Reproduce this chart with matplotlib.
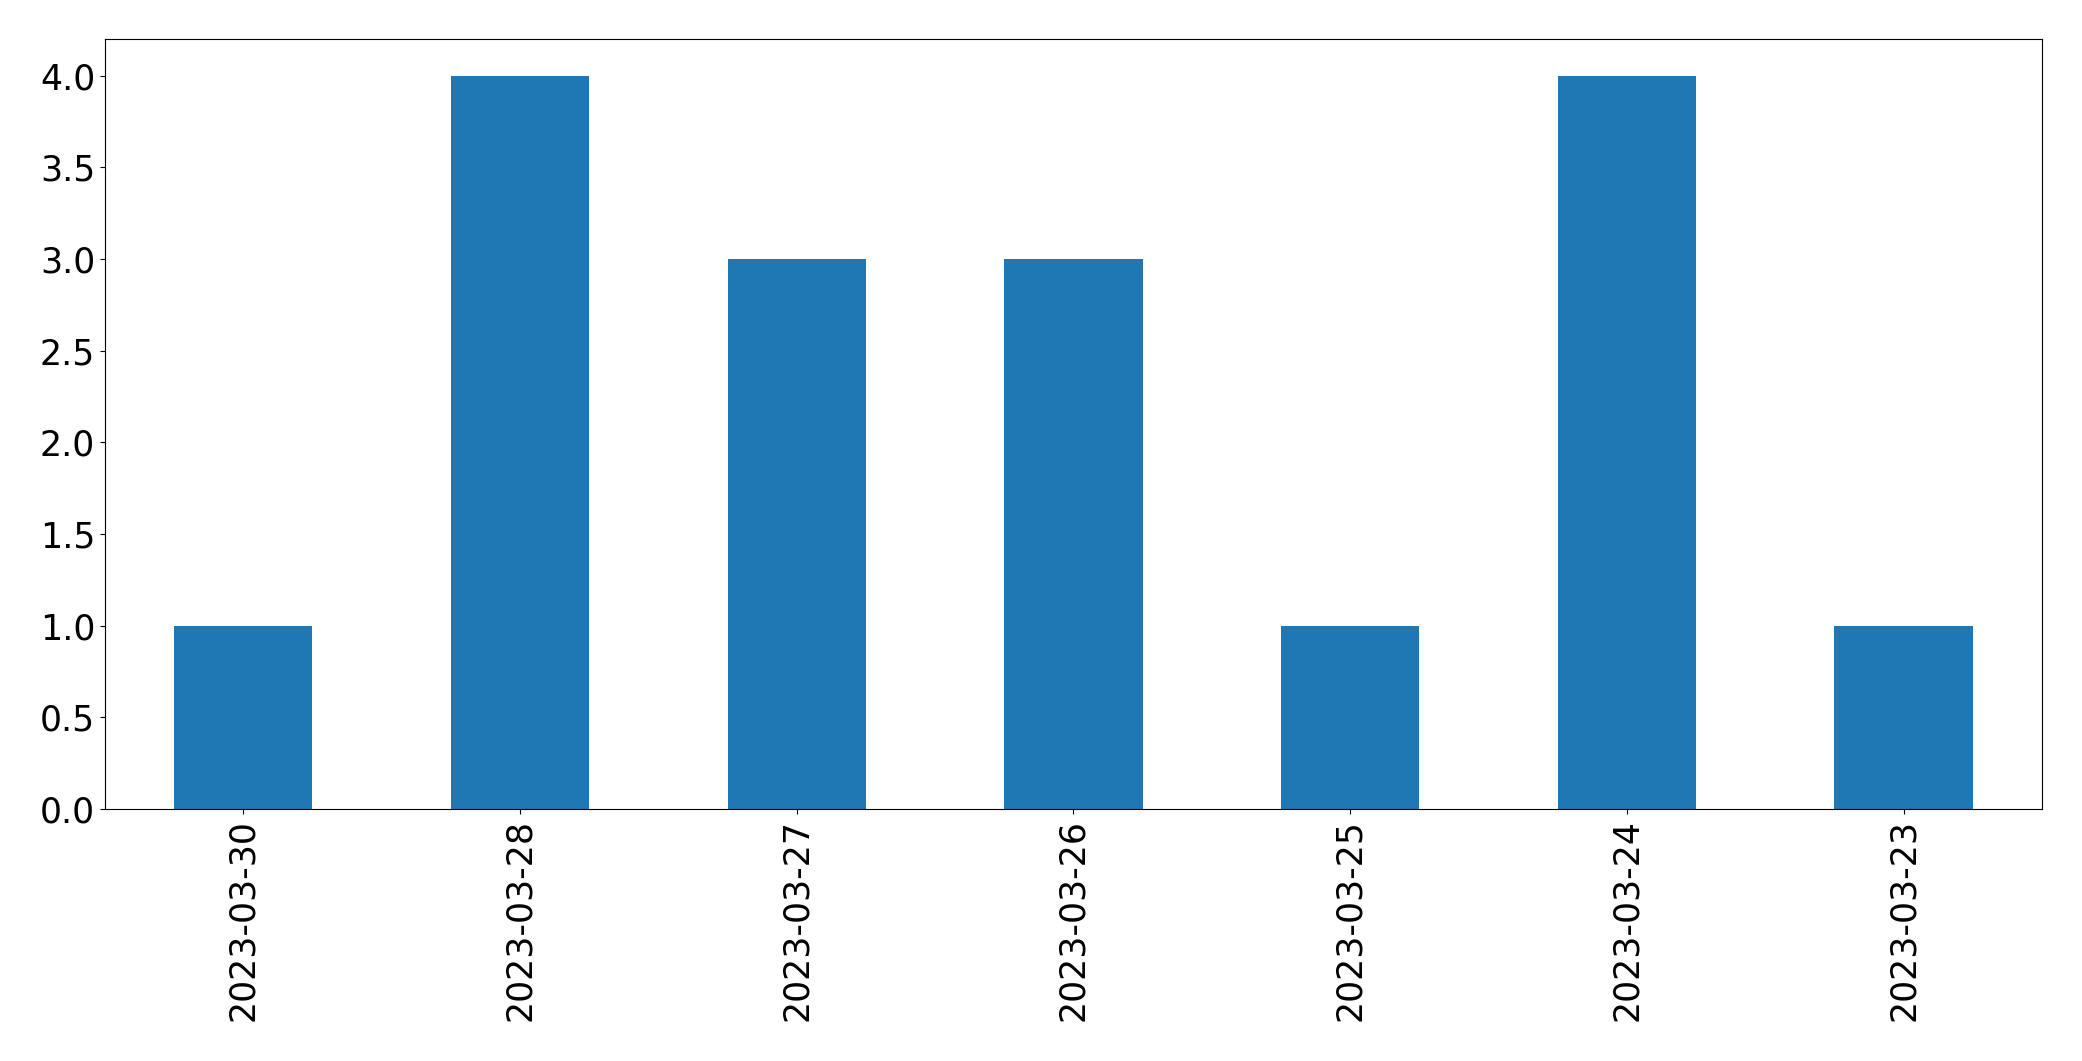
import matplotlib
matplotlib.use("Agg")
import matplotlib.pyplot as plt
import pandas as pd

dates = ["2023-03-30", "2023-03-28", "2023-03-27", "2023-03-26",
         "2023-03-25", "2023-03-24", "2023-03-23"]
counts = [1, 4, 3, 3, 1, 4, 1]

s = pd.Series(counts, index=dates)

fig = plt.figure(figsize=(20.82, 10.61), dpi=100)
ax = fig.add_axes([0.0504, 0.2375, 0.9304, 0.7257])
s.plot(kind="bar", ax=ax, color="#1f77b4", fontsize=25)
ax.set_xlabel("")
fig.savefig("out.png", dpi=100)
